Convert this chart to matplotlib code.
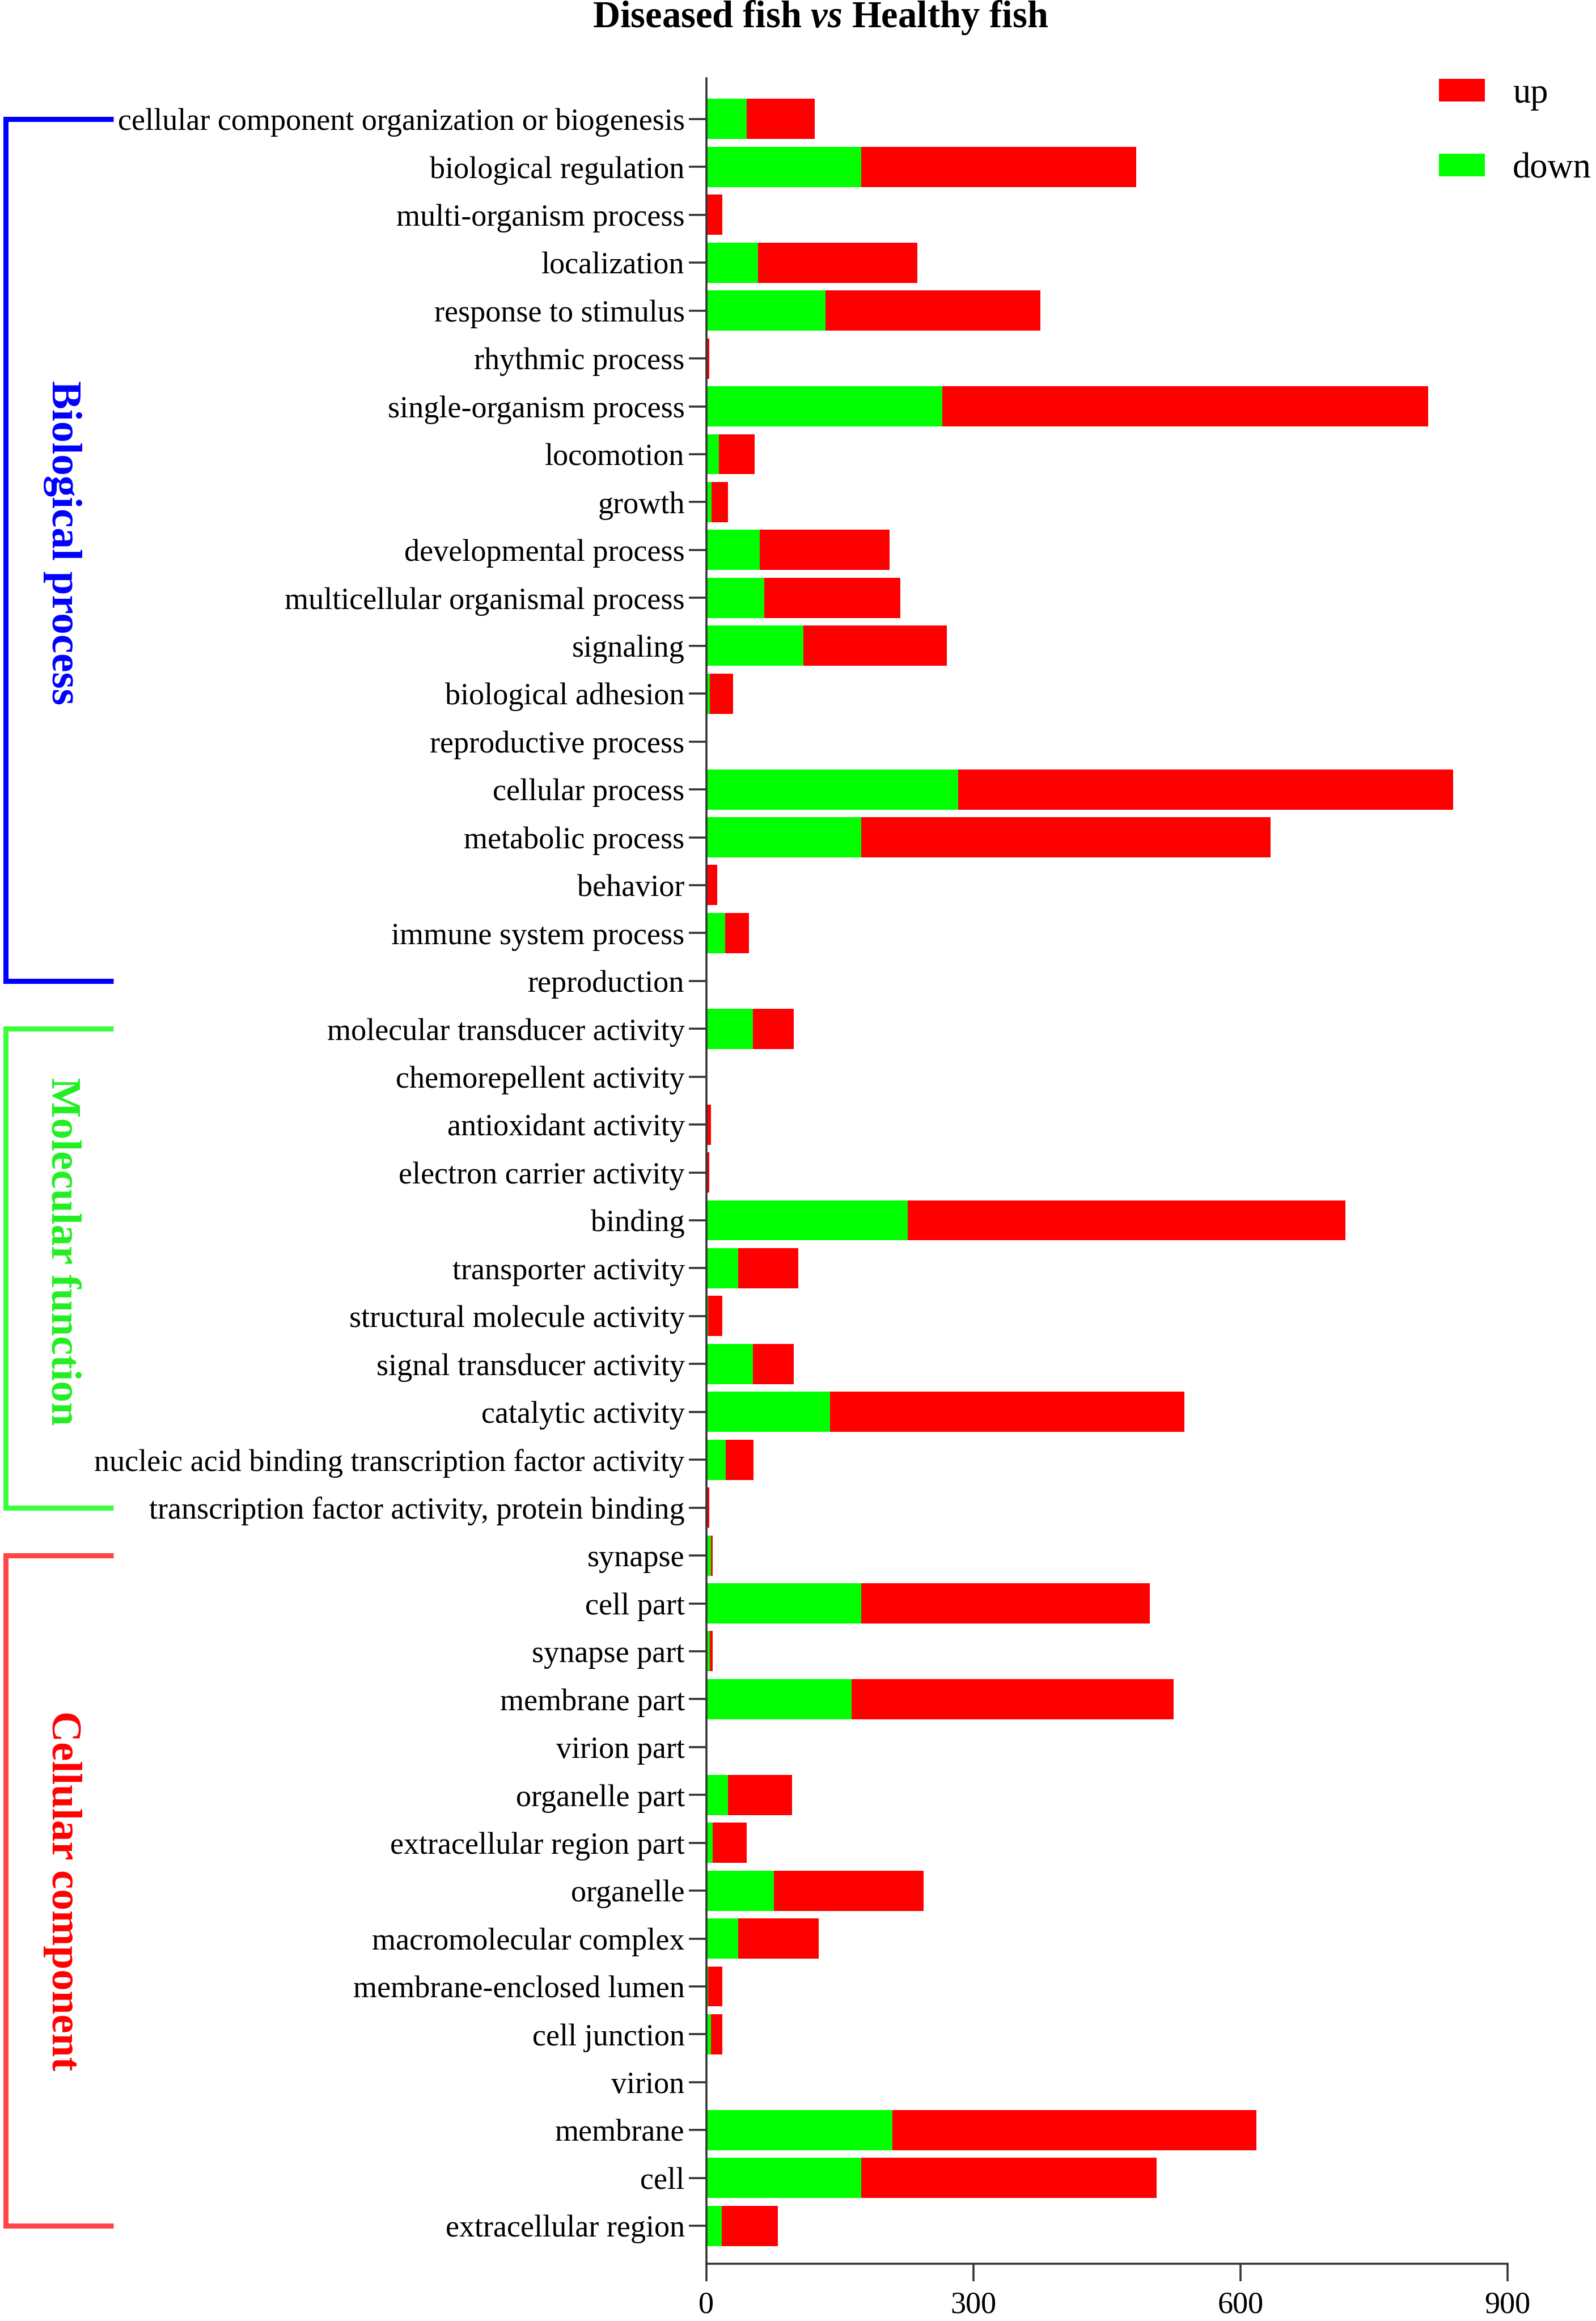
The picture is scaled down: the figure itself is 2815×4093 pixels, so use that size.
import numpy as np
import matplotlib
matplotlib.use("Agg")
import matplotlib.pyplot as plt
from matplotlib.transforms import blended_transform_factory

# GO terms, top to bottom
terms = [
    "cellular component organization or biogenesis", "biological regulation",
    "multi-organism process", "localization", "response to stimulus",
    "rhythmic process", "single-organism process", "locomotion", "growth",
    "developmental process", "multicellular organismal process", "signaling",
    "biological adhesion", "reproductive process", "cellular process",
    "metabolic process", "behavior", "immune system process", "reproduction",
    "molecular transducer activity", "chemorepellent activity",
    "antioxidant activity", "electron carrier activity", "binding",
    "transporter activity", "structural molecule activity",
    "signal transducer activity", "catalytic activity",
    "nucleic acid binding transcription factor activity",
    "transcription factor activity, protein binding",
    "synapse", "cell part", "synapse part", "membrane part", "virion part",
    "organelle part", "extracellular region part", "organelle",
    "macromolecular complex", "membrane-enclosed lumen", "cell junction",
    "virion", "membrane", "cell", "extracellular region",
]
down = [45, 174, 1, 58, 134, 0, 265, 14, 6, 60, 65, 109, 4, 0, 283, 174, 1, 21, 0,
        52, 0, 1, 0, 226, 36, 2, 52, 139, 22, 0,
        5, 174, 4, 163, 0, 24, 7, 76, 36, 2, 5, 0, 209, 174, 17]
up = [77, 309, 17, 179, 241, 3, 546, 40, 18, 146, 153, 161, 26, 1, 556, 460, 11, 27, 1,
      46, 1, 4, 3, 492, 67, 16, 46, 398, 31, 3,
      2, 324, 3, 362, 0, 72, 38, 168, 90, 16, 13, 0, 409, 332, 63]

# groups: name, first row, last row, bracket colour, text colour, text row
groups = [
    ("Biological process", 0, 18, "#0000ff", "#0000ff", 8.85),
    ("Molecular function", 19, 29, "#3cff3c", "#22ee22", 23.65),
    ("Cellular component", 30, 44, "#ff4545", "#ff0000", 37.0),
]

plt.rcParams["font.family"] = ["Liberation Serif", "DejaVu Serif"]
plt.rcParams["mathtext.fontset"] = "custom"
plt.rcParams["mathtext.it"] = "Liberation Serif:italic:bold"
plt.rcParams["mathtext.rm"] = "Liberation Serif:bold"

fig = plt.figure(figsize=(28.15, 40.93), dpi=100)
ax = fig.add_axes([0.4426, 0.0247, 0.502, 0.9416])

y = np.arange(len(terms))
down_bars = ax.barh(y, down, height=0.84, color="#00ff00", label="down")
up_bars = ax.barh(y, up, left=down, height=0.84, color="#ff0000", label="up")

ax.set_yticks(y)
ax.set_yticklabels(terms)
ax.set_ylim(44.79, -0.853)
ax.set_xlim(0, 900)
ax.set_xticks([0, 300, 600, 900])

for s in ["top", "right"]:
    ax.spines[s].set_visible(False)
for s in ["left", "bottom"]:
    ax.spines[s].set_linewidth(2.6)
    ax.spines[s].set_color("#333333")
ax.tick_params(axis="y", length=22.5, width=2.6, color="#333333", pad=5, labelsize=39)
ax.tick_params(axis="x", length=22.5, width=2.6, color="#333333", pad=12, labelsize=39)

ax.legend([up_bars, down_bars], ["up", "down"], loc="upper left",
          bbox_to_anchor=(0.9016, 0.9665), bbox_transform=fig.transFigure,
          frameon=False, fontsize=45, handlelength=1.3, handleheight=0.62,
          handletextpad=0.78, labelspacing=1.18, borderpad=0, borderaxespad=0)

fig.text(0.514, 0.9924, "Diseased fish $\\mathit{vs}$ Healthy fish",
         ha="center", va="center", fontsize=48, fontweight="bold")

# brackets and group names on the left
trans = blended_transform_factory(fig.transFigure, ax.transData)
for name, r0, r1, bcol, tcol, ty in groups:
    ax.plot([0.071, 0.0034, 0.0034, 0.071], [r0, r0, r1, r1], color=bcol,
            lw=6.5, transform=trans, clip_on=False, solid_capstyle="butt",
            solid_joinstyle="miter")
    ax.text(0.039, ty, name, transform=trans, rotation=270,
            ha="center", va="center", fontsize=54, fontweight="bold", color=tcol)

fig.savefig("out.png", dpi=100)
